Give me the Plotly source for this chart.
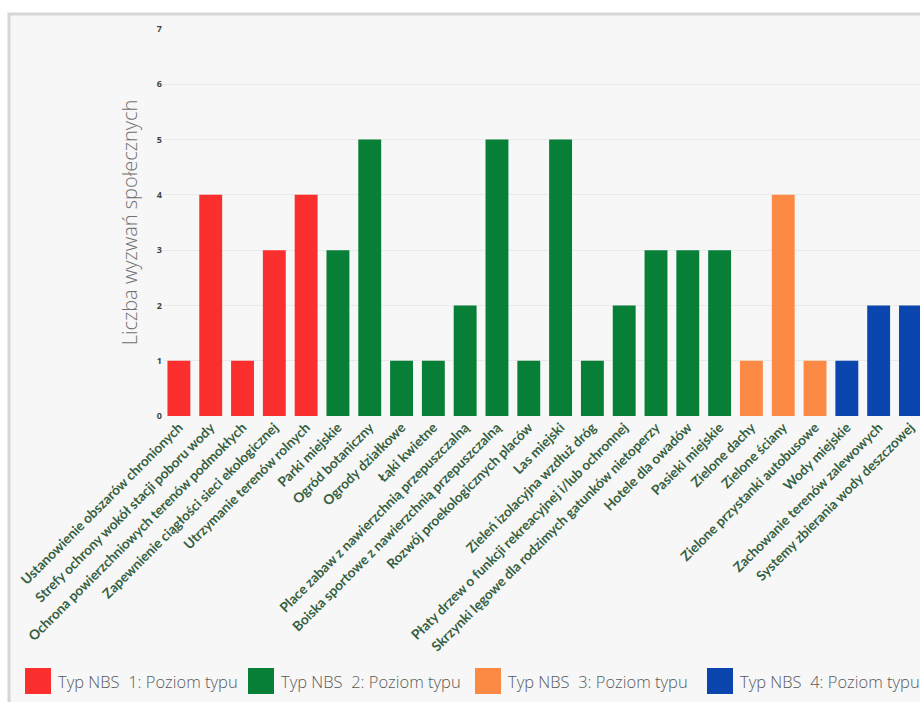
import plotly.graph_objects as go

# NBS solutions and the number of social challenges each one addresses
categories = [
    "Ustanowienie obszarów chronionych",
    "Strefy ochrony wokół stacji poboru wody",
    "Ochrona powierzchniowych terenów podmokłych",
    "Zapewnienie ciągłości sieci ekologicznej",
    "Utrzymanie terenów rolnych",
    "Parki miejskie",
    "Ogród botaniczny",
    "Ogrody działkowe",
    "Łąki kwietne",
    "Place zabaw z nawierzchnią przepuszczalną",
    "Boiska sportowe z nawierzchnią przepuszczalną",
    "Rozwój proekologicznych placów",
    "Las miejski",
    "Zieleń izolacyjna wzdłuż dróg",
    "Płaty drzew o funkcji rekreacyjnej i/lub ochronnej",
    "Skrzynki lęgowe dla rodzimych gatunków nietoperzy",
    "Hotele dla owadów",
    "Pasieki miejskie",
    "Zielone dachy",
    "Zielone ściany",
    "Zielone przystanki autobusowe",
    "Wody miejskie",
    "Zachowanie terenów zalewowych",
    "Systemy zbierania wody deszczowej",
]
values = [1, 4, 1, 3, 4, 3, 5, 1, 1, 2, 5, 1, 5, 1, 2, 3, 3, 3, 1, 4, 1, 1, 2, 2]
nbs_type = [1, 1, 1, 1, 1, 2, 2, 2, 2, 2, 2, 2, 2, 2, 2, 2, 2, 2, 3, 3, 3, 4, 4, 4]

type_labels = [
    "Typ NBS  1: Poziom typu",
    "Typ NBS  2: Poziom typu",
    "Typ NBS  3: Poziom typu",
    "Typ NBS  4: Poziom typu",
]
type_colors = ["#fc2f2f", "#087f37", "#fd8a44", "#0b45ae"]

W, H = 920, 702
L, T, B = 163, 29, 286
PW, PH = W - L, H - T - B


def px_x(p):
    return (p - L) / PW


def px_y(p):
    return (H - B - p) / PH


fig = go.Figure()
fig.add_trace(go.Bar(
    x=categories,
    y=values,
    marker=dict(color=[type_colors[t - 1] for t in nbs_type], line=dict(width=0)),
    showlegend=False,
))

shapes = [
    # framed panel behind the chart
    dict(type="rect", xref="paper", yref="paper", layer="below",
         x0=px_x(9), x1=1.2, y0=-1.0, y1=px_y(14),
         fillcolor="#f7f7f7", line=dict(color="#d6d6d6", width=3)),
]
annotations = []

# legend keys along the bottom
key_left = [25, 248, 475, 707]
for i, (lab, col) in enumerate(zip(type_labels, type_colors)):
    x0 = key_left[i]
    shapes.append(dict(type="rect", xref="paper", yref="paper",
                       x0=px_x(x0), x1=px_x(x0 + 26), y0=px_y(694), y1=px_y(668),
                       fillcolor=col, line=dict(width=0)))
    annotations.append(dict(xref="paper", yref="paper", x=px_x(x0 + 31), y=px_y(681),
                            xanchor="left", yanchor="middle", showarrow=False,
                            text=lab, font=dict(family="Open Sans", size=16.5, color="#5a5a5a",
                                                weight=300)))

fig.update_layout(
    width=W, height=H,
    margin=dict(l=L, r=0, t=T, b=B),
    paper_bgcolor="white",
    plot_bgcolor="rgba(0,0,0,0)",
    bargap=0.28,
    shapes=shapes,
    annotations=annotations,
    xaxis=dict(
        range=[-0.5, 23.3],
        tickangle=-45,
        tickfont=dict(family="Lato", size=13.6, color="#35603f", weight="bold"),
        showgrid=False,
        showline=False,
        ticks="",
        fixedrange=True,
    ),
    yaxis=dict(
        range=[0, 7],
        dtick=1,
        tickfont=dict(family="Open Sans", size=9, color="#444444", weight="bold"),
        gridcolor="#e9e9e9",
        zeroline=False,
        showline=False,
        ticks="",
        title=dict(text="Liczba wyzwań społecznych",
                   font=dict(family="Open Sans", size=20, color="#707070", weight=300),
                   standoff=13),
    ),
)

fig.write_html("out.html")
